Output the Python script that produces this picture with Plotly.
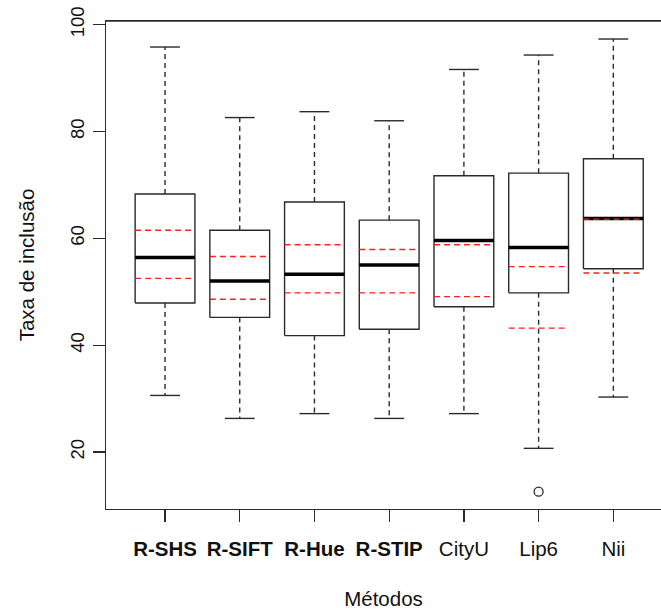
import plotly.graph_objects as go

methods = ["R-SHS", "R-SIFT", "R-Hue", "R-STIP", "CityU", "Lip6", "Nii"]
bold_methods = ["R-SHS", "R-SIFT", "R-Hue", "R-STIP"]
upper_whisker = [95.8, 82.6, 83.7, 82.0, 91.6, 94.3, 97.3]
q3 = [68.3, 61.5, 66.8, 63.4, 71.7, 72.2, 74.9]
median = [56.4, 52.0, 53.3, 55.0, 59.6, 58.3, 63.7]
q1 = [47.9, 45.2, 41.8, 43.0, 47.2, 49.8, 54.3]
lower_whisker = [30.6, 26.3, 27.2, 26.3, 27.2, 20.7, 30.3]
red_upper = [61.5, 56.6, 58.8, 57.9, 58.8, 54.7, 63.6]
red_lower = [52.5, 48.6, 49.8, 49.8, 49.1, 43.2, 53.5]
outlier_method = ["Lip6"]
outlier_value = [12.6]

y_ticks = [20, 40, 60, 80, 100]

BOX_W = 0.4   # half width
CAP_W = 0.2   # half width of staple
LINE = "#2a2a2a"
FONT = "Liberation Sans, Arial, sans-serif"
FS = 20.5

pos = list(range(1, len(methods) + 1))


def segs(pairs):
    xs, ys = [], []
    for (x0, y0, x1, y1) in pairs:
        xs += [x0, x1, None]
        ys += [y0, y1, None]
    return xs, ys


fig = go.Figure()

# dashed whiskers
wx, wy = segs([(p, q3[i], p, upper_whisker[i]) for i, p in enumerate(pos)] +
              [(p, q1[i], p, lower_whisker[i]) for i, p in enumerate(pos)])
fig.add_trace(go.Scatter(x=wx, y=wy, mode="lines",
                         line=dict(color=LINE, width=1.4, dash="5px,4px"),
                         hoverinfo="skip", showlegend=False))

# staples
sx, sy = segs([(p - CAP_W, upper_whisker[i], p + CAP_W, upper_whisker[i]) for i, p in enumerate(pos)] +
              [(p - CAP_W, lower_whisker[i], p + CAP_W, lower_whisker[i]) for i, p in enumerate(pos)])
fig.add_trace(go.Scatter(x=sx, y=sy, mode="lines",
                         line=dict(color=LINE, width=1.4),
                         hoverinfo="skip", showlegend=False))

# boxes
bx, by = [], []
for i, p in enumerate(pos):
    bx += [p - BOX_W, p + BOX_W, p + BOX_W, p - BOX_W, p - BOX_W, None]
    by += [q1[i], q1[i], q3[i], q3[i], q1[i], None]
fig.add_trace(go.Scatter(x=bx, y=by, mode="lines",
                         line=dict(color=LINE, width=1.4),
                         hoverinfo="skip", showlegend=False))

# medians
mx, my = segs([(p - BOX_W, median[i], p + BOX_W, median[i]) for i, p in enumerate(pos)])
fig.add_trace(go.Scatter(x=mx, y=my, mode="lines",
                         line=dict(color="black", width=3.5),
                         hoverinfo="skip", showlegend=False))

# red dashed lines
rx, ry = segs([(p - BOX_W, red_upper[i], p + BOX_W, red_upper[i]) for i, p in enumerate(pos)] +
              [(p - BOX_W, red_lower[i], p + BOX_W, red_lower[i]) for i, p in enumerate(pos)])
fig.add_trace(go.Scatter(x=rx, y=ry, mode="lines",
                         line=dict(color="#ff2020", width=1.4, dash="6px,4px"),
                         hoverinfo="skip", showlegend=False))

# outliers
fig.add_trace(go.Scatter(x=[methods.index(m) + 1 for m in outlier_method], y=outlier_value,
                         mode="markers",
                         marker=dict(symbol="circle-open", size=9, color=LINE, line=dict(width=1.3)),
                         hoverinfo="skip", showlegend=False))

ticktext = [f"<b>{m}</b>" if m in bold_methods else m for m in methods]

fig.update_layout(
    width=661, height=610,
    margin=dict(l=106, r=0, t=21, b=101),
    paper_bgcolor="white", plot_bgcolor="white",
    font=dict(family=FONT, size=FS, color="#111"),
    showlegend=False,
    hovermode=False,
    xaxis=dict(range=[0.21, 7.638], tickvals=pos, ticktext=ticktext,
               ticks="outside", ticklen=12, tickwidth=1.3, tickcolor=LINE,
               ticklabelstandoff=9, ticklabeloverflow="allow",
               showline=True, linecolor=LINE, linewidth=1.4, mirror=True,
               showgrid=False, zeroline=False, automargin=False,
               title=dict(text="Métodos", font=dict(size=FS), standoff=32)),
    yaxis=dict(range=[9.35, 100.67], tickvals=y_ticks,
               ticks="outside", ticklen=12, tickwidth=1.3, tickcolor=LINE,
               tickangle=-90, ticklabelstandoff=1, ticklabeloverflow="allow",
               tickfont=dict(size=18.5),
               showline=True, linecolor=LINE, linewidth=1.4, mirror=False,
               showgrid=False, zeroline=False, automargin=False,
               title=dict(text="Taxa de inclusão", font=dict(size=FS), standoff=27)),
    shapes=[dict(type="line", xref="paper", yref="paper", x0=0, x1=1, y0=1, y1=1,
                 line=dict(color=LINE, width=1.4), layer="above")],
)

# remove the browser's default 8px body margin so the 661x610 figure fills the window
fig.write_html("out.html",
               config={"displayModeBar": False, "staticPlot": True},
               post_script="document.body.style.margin='0';document.body.style.overflow='hidden';")
